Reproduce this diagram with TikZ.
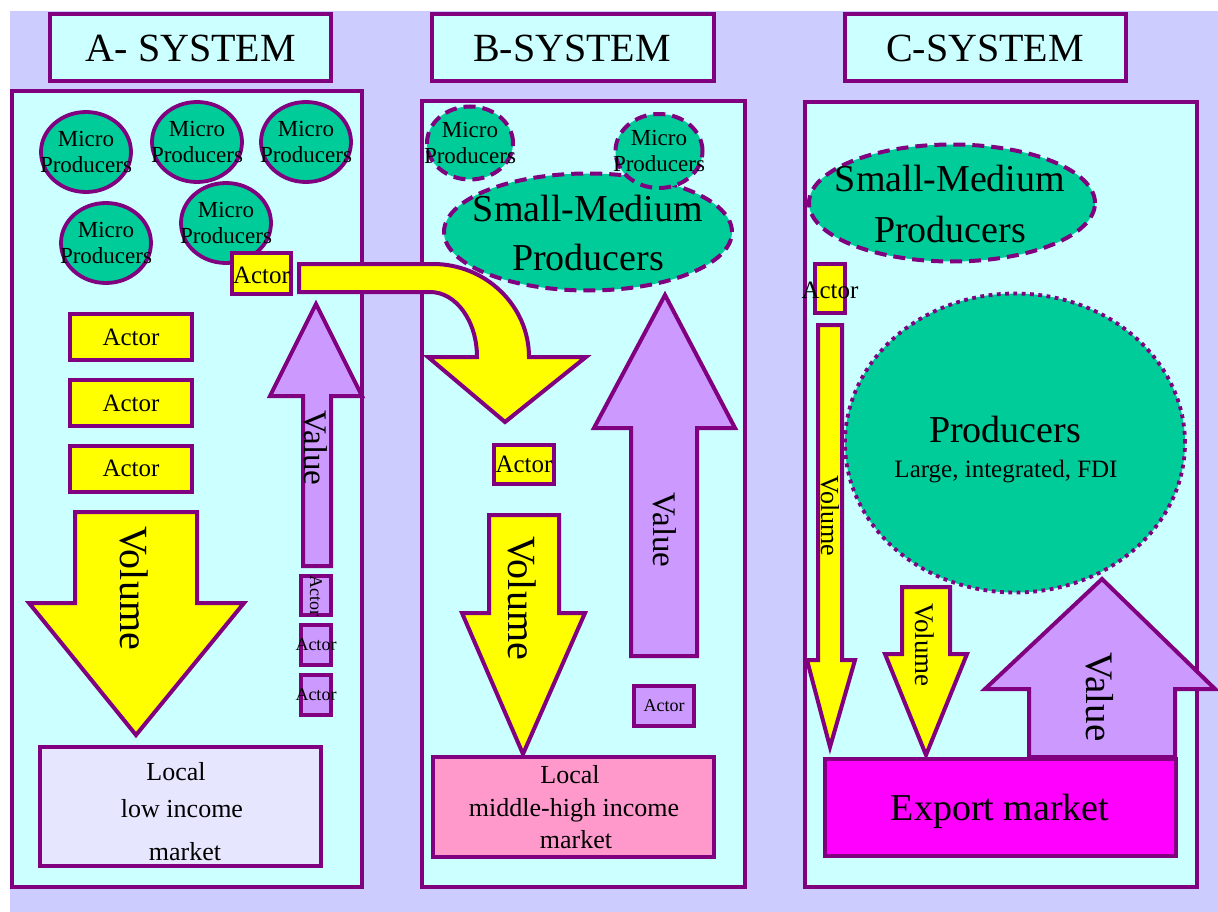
\documentclass[tikz,border=0pt]{standalone}
\usepackage{fontspec}
\setmainfont{Liberation Serif}
\usetikzlibrary{shapes.geometric}
\definecolor{bgl}{HTML}{CCCCFF}
\definecolor{pnl}{HTML}{CCFFFF}
\definecolor{pp}{HTML}{800080}
\definecolor{grn}{HTML}{00CC99}
\definecolor{yel}{HTML}{FFFF00}
\definecolor{lil}{HTML}{CC99FF}
\definecolor{pnk}{HTML}{FF99CC}
\definecolor{mag}{HTML}{FF00FF}
\definecolor{pale}{HTML}{E6E6FF}
\newcommand\myfs[1]{\fontsize{#1}{#1}\selectfont}
\begin{document}
\begin{tikzpicture}[x=1pt,y=-1pt,
 mybox/.style={rectangle,draw=pp,line width=4pt,inner sep=0pt},
 panel/.style={mybox,fill=pnl},
 ybox/.style={mybox,fill=yel},
 lbox/.style={mybox,fill=lil},
 ell/.style={ellipse,draw=pp,line width=3.8pt,fill=grn,inner sep=0pt},
 dashell/.style={ell,line width=4pt,dash pattern=on 12pt off 7pt},
 dotell/.style={ell,line width=3.8pt,dash pattern=on 3.8pt off 4.5pt},
 yarr/.style={draw=pp,line width=4pt,fill=yel},
 varr/.style={draw=pp,line width=4pt,fill=lil},
 txt/.style={inner sep=0pt,text=black},
 micro/.style={txt,align=center,font={\fontsize{23}{26}\selectfont}},
 vtxt/.style={txt,rotate=-90},
]
\useasboundingbox (0,0) rectangle (1218,912);
\fill[white] (0,0) rectangle (1218,912);
\fill[bgl] (10,11) rectangle (1218,912);

% panels and titles
\node[panel,minimum width=350pt,minimum height=796pt] (pA) at (187,489) {};
\node[panel,minimum width=323pt,minimum height=786pt] (pB) at (583.5,494) {};
\node[panel,minimum width=392pt,minimum height=785pt] (pC) at (1001,494.5) {};
\node[panel,minimum width=281pt,minimum height=67pt] (hA) at (190.5,47.5) {};
\node[panel,minimum width=282pt,minimum height=67pt] (hB) at (573,47.5) {};
\node[panel,minimum width=281pt,minimum height=67pt] (hC) at (985.5,47.5) {};
\node[txt,anchor=base,font=\myfs{40}] (thA) at (191,62) {A- SYSTEM};
\node[txt,anchor=base,font=\myfs{40}] (thB) at (572,62) {B-SYSTEM};
\node[txt,anchor=base,font=\myfs{40}] (thC) at (985,62) {C-SYSTEM};

% ---------- A system
\node[ell,minimum width=90pt,minimum height=80pt] (mA1) at (86,152) {};
\node[ell,minimum width=90pt,minimum height=80pt] (mA2) at (197,142) {};
\node[ell,minimum width=90pt,minimum height=80pt] (mA3) at (306,142) {};
\node[ell,minimum width=90pt,minimum height=80pt] (mA4) at (106,243) {};
\node[ell,minimum width=90pt,minimum height=80pt] (mA5) at (226,223) {};
\node[micro] (tmA1) at (mA1.center) {Micro\\Producers};
\node[micro] (tmA2) at (mA2.center) {Micro\\Producers};
\node[micro] (tmA3) at (mA3.center) {Micro\\Producers};
\node[micro] (tmA4) at (mA4.center) {Micro\\Producers};
\node[micro] (tmA5) at (mA5.center) {Micro\\Producers};

\node[ybox,minimum width=122pt,minimum height=46pt] (aA1) at (131,337) {};
\node[ybox,minimum width=122pt,minimum height=46pt] (aA2) at (131,403) {};
\node[ybox,minimum width=122pt,minimum height=46pt] (aA3) at (131,468.5) {};
\node[txt,font=\myfs{25}] (taA1) at (aA1.center) {Actor};
\node[txt,font=\myfs{25}] (taA2) at (aA2.center) {Actor};
\node[txt,font=\myfs{25}] (taA3) at (aA3.center) {Actor};

% Volume arrow A
\draw[yarr] (75,512) -- (197,512) -- (197,603) -- (244,603) -- (136,735) -- (29,603) -- (75,603) -- cycle;
\node[vtxt,font=\myfs{40}] (volA) at (134,588) {Volume};

% Value arrow A
\draw[varr] (303,566) -- (303,396) -- (270,396) -- (316,304) -- (362,396) -- (331,396) -- (331,566) -- cycle;
\node[vtxt,font=\myfs{33}] (valA) at (316,448) {Value};

\node[lbox,minimum width=30pt,minimum height=39pt] (sA1) at (316,595.5) {};
\node[lbox,minimum width=30pt,minimum height=40pt] (sA2) at (316,645) {};
\node[lbox,minimum width=30pt,minimum height=40pt] (sA3) at (316,695) {};
\node[vtxt,font=\myfs{18}] (tsA1) at (sA1.center) {Actor};
\node[txt,font=\myfs{18}] (tsA2) at (sA2.center) {Actor};
\node[txt,font=\myfs{18}] (tsA3) at (sA3.center) {Actor};

\node[mybox,fill=pale,minimum width=281pt,minimum height=119pt] (mkA) at (180.5,806.5) {};
\node[txt,anchor=base,font=\myfs{26}] (mkA1) at (176,780) {Local};
\node[txt,anchor=base,font=\myfs{26}] (mkA2) at (182,817) {low income};
\node[txt,anchor=base,font=\myfs{26}] (mkA3) at (185,860) {market};

% ---------- B system
\node[dashell,minimum width=288pt,minimum height=117pt] (smB) at (588,232) {};
\node[dashell,minimum width=86pt,minimum height=73pt] (mB1) at (470,143) {};
\node[dashell,minimum width=87pt,minimum height=74pt] (mB2) at (659,151) {};
\node[micro] (tmB1) at (mB1.center) {Micro\\Producers};
\node[micro] (tmB2) at (mB2.center) {Micro\\Producers};
\node[txt,anchor=base,font=\myfs{38}] (tsmB1) at (588,222) {Small-Medium};
\node[txt,anchor=base,font=\myfs{38}] (tsmB2) at (588,270) {Producers};

% curved arrow from A actor to B
\node[ybox,minimum width=59pt,minimum height=41pt] (aAt) at (261.5,273.5) {};
\node[txt,font=\myfs{25}] (taAt) at (261.5,275) {Actor};
\draw[yarr] (299,264) -- (433,264) .. controls (486,264) and (529,306) .. (529,357)
  -- (586,357) -- (505,422) -- (428,357) -- (477,357)
  .. controls (477,321) and (456,292) .. (430,292) -- (299,292) -- cycle;

\node[ybox,minimum width=60pt,minimum height=39pt] (aB) at (524,464.5) {};
\node[txt,font=\myfs{25}] (taB) at (aB.center) {Actor};

\draw[varr] (631,656) -- (631,428) -- (594,428) -- (665,295) -- (735,428) -- (697,428) -- (697,656) -- cycle;
\node[vtxt,font=\myfs{33}] (valB) at (665,530) {Value};

\draw[yarr] (489,515) -- (559,515) -- (559,613) -- (585,613) -- (523,754) -- (462,613) -- (489,613) -- cycle;
\node[vtxt,font=\myfs{40}] (volB) at (522,598) {Volume};

\node[lbox,minimum width=60pt,minimum height=40pt] (sB) at (664,706) {};
\node[txt,font=\myfs{18}] (tsB) at (sB.center) {Actor};

\node[mybox,fill=pnk,minimum width=281pt,minimum height=100pt] (mkB) at (573.5,807) {};
\node[txt,anchor=base,font=\myfs{26}] (mkB1) at (570,783) {Local};
\node[txt,anchor=base,font=\myfs{26}] (mkB2) at (574,816) {middle-high income};
\node[txt,anchor=base,font=\myfs{26}] (mkB3) at (576,848) {market};

% ---------- C system
\node[dashell,minimum width=286pt,minimum height=117pt] (smC) at (952,203) {};
\node[txt,anchor=base,font=\myfs{38}] (tsmC1) at (950,192) {Small-Medium};
\node[txt,anchor=base,font=\myfs{38}] (tsmC2) at (950,242) {Producers};

\node[dotell,minimum width=340pt,minimum height=299pt] (bigC) at (1015,443) {};
\node[txt,anchor=base,font=\myfs{38}] (tbig1) at (1005,442) {Producers};
\node[txt,anchor=base,font=\myfs{25}] (tbig2) at (1006,477) {Large, integrated, FDI};

\node[ybox,minimum width=30pt,minimum height=49pt] (aC) at (830,288.5) {};
\node[txt,font=\myfs{25}] (taC) at (830,290) {Actor};

\draw[yarr] (818,325) -- (842,325) -- (842,660) -- (855,660) -- (830,747) -- (807,660) -- (818,660) -- cycle;
\node[vtxt,font=\myfs{26}] (volC1) at (830,516) {Volume};

\draw[yarr] (902,587) -- (950,587) -- (950,654) -- (967,654) -- (926,755) -- (885,654) -- (902,654) -- cycle;
\node[vtxt,font=\myfs{27}] (volC2) at (925,645) {Volume};

\draw[varr] (1029,757) -- (1029,689) -- (985,689) -- (1102,579) -- (1215,689) -- (1175,689) -- (1175,757) -- cycle;
\node[vtxt,font=\myfs{39}] (valC) at (1100,697) {Value};

\node[mybox,fill=mag,minimum width=351pt,minimum height=97pt] (exC) at (1000.5,807.5) {};
\node[txt,anchor=base,font=\myfs{38}] (texC) at (1000,820) {Export market};
\end{tikzpicture}
\end{document}
